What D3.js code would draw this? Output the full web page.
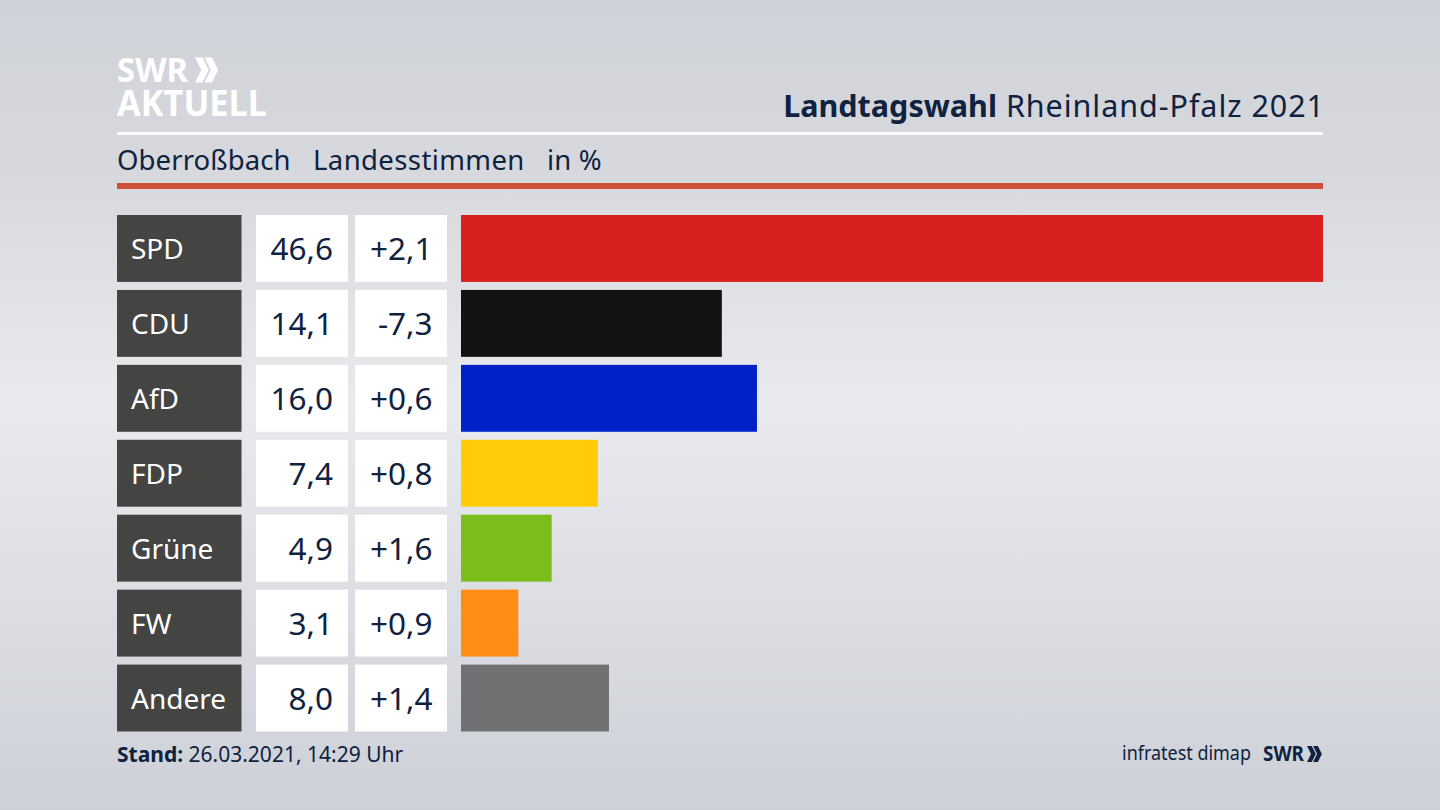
<!DOCTYPE html>
<html>
<head>
<meta charset="utf-8">
<script src="https://cdn.jsdelivr.net/npm/d3@7"></script>
<style>
  html, body { margin: 0; padding: 0; background: #dcdee3; }
  svg { display: block; }
  text { font-family: "Noto Sans", sans-serif; }
</style>
</head>
<body>
<svg id="chart" width="1440" height="810"></svg>
<script>
const parties = ['SPD', 'CDU', 'AfD', 'FDP', 'Grüne', 'FW', 'Andere'];
const shares = [46.6, 14.1, 16.0, 7.4, 4.9, 3.1, 8.0];
const changes = ['+2,1', '-7,3', '+0,6', '+0,8', '+1,6', '+0,9', '+1,4'];
const colors = ['#d8201f', '#121212', '#0021c7', '#ffcc07', '#7bbd1a', '#ff8c14', '#707173'];

const navy = '#0f2240';
const svg = d3.select('#chart');
const width = 1440;
const height = 810;

// background, lighter band through the middle
const defs = svg.append('defs');
const bg = defs.append('linearGradient').attr('id', 'bg').attr('x1', 0).attr('y1', 0).attr('x2', 0).attr('y2', 1);
[[0, '#cfd2d8'], [0.2, '#d6d8dd'], [0.5, '#e9eaee'], [0.72, '#dddfe4'], [1, '#cdd0d7']].forEach(s => {
    bg.append('stop').attr('offset', s[0]).attr('stop-color', s[1]);
});
svg.append('rect').attr('width', width).attr('height', height).attr('fill', 'url(#bg)');

const y = d3.scaleBand().domain(parties).range([215, 731.5]).paddingInner(0.107);
const x = d3.scaleLinear().domain([0, 46.6]).range([461, 1323]);

// header
const chevrons = (g, cx, cy, s, fill) => {
    [0, 0.38].forEach(o => {
        const x0 = cx + o * s;
        g.append('path')
            .attr('d', `M${x0},${cy - s / 2}L${x0 + s * 0.3},${cy - s / 2}L${x0 + s * 0.55},${cy}L${x0 + s * 0.3},${cy + s / 2}L${x0},${cy + s / 2}L${x0 + s * 0.25},${cy}Z`)
            .attr('fill', fill);
    });
};

svg.append('text').attr('x', 117).attr('y', 82).attr('font-size', 34).attr('font-weight', 700)
    .attr('fill', '#fff').attr('textLength', 71).attr('lengthAdjust', 'spacingAndGlyphs').text('SWR');
chevrons(svg, 195, 70, 25, '#fff');
svg.append('text').attr('x', 117).attr('y', 116).attr('font-size', 36).attr('font-weight', 700)
    .attr('fill', '#fff').attr('textLength', 150).attr('lengthAdjust', 'spacingAndGlyphs').text('AKTUELL');

const title = svg.append('text').attr('x', 1325).attr('y', 117).attr('text-anchor', 'end')
    .attr('font-size', 30.5).attr('fill', navy);
title.append('tspan').attr('font-weight', 700).text('Landtagswahl');
title.append('tspan').attr('letter-spacing', 0.95).text(' Rheinland-Pfalz 2021');

svg.append('rect').attr('x', 117).attr('y', 132).attr('width', 1206).attr('height', 3).attr('fill', '#fff');

[['Oberroßbach', 117, 0.1], ['Landesstimmen', 313, 0.4], ['in %', 547, 0.2]].forEach(d => {
    svg.append('text').attr('x', d[1]).attr('y', 170).attr('font-size', 27.5)
        .attr('letter-spacing', d[2]).attr('fill', navy).text(d[0]);
});

svg.append('rect').attr('x', 117).attr('y', 183).attr('width', 1206).attr('height', 6).attr('fill', '#cf4f39');

// rows
const rows = svg.append('g').selectAll('g').data(parties).enter().append('g')
    .attr('transform', d => `translate(0,${y(d)})`);
const bh = y.bandwidth();

rows.append('rect').attr('x', 117).attr('width', 124.5).attr('height', bh).attr('fill', '#444442');
rows.append('rect').attr('x', 256).attr('width', 92).attr('height', bh).attr('fill', '#fff');
rows.append('rect').attr('x', 355).attr('width', 92).attr('height', bh).attr('fill', '#fff');

rows.append('rect').attr('x', x(0)).attr('height', bh)
    .attr('width', (d, i) => x(shares[i]) - x(0))
    .attr('fill', (d, i) => colors[i]);

rows.append('text').attr('x', 131).attr('y', bh / 2 + 10.5).attr('font-size', 28).attr('fill', '#fff').text(d => d);
rows.append('text').attr('x', 333).attr('y', bh / 2 + 11.5).attr('text-anchor', 'end')
    .attr('font-size', 31.5).attr('fill', navy).text((d, i) => d3.format('.1f')(shares[i]).replace('.', ','));
rows.append('text').attr('x', 432.5).attr('y', bh / 2 + 11.5).attr('text-anchor', 'end')
    .attr('font-size', 31.5).attr('fill', navy).text((d, i) => changes[i]);

// footer
const stand = svg.append('text').attr('x', 117).attr('y', 762).attr('font-size', 21).attr('fill', navy);
stand.append('tspan').attr('font-weight', 700).text('Stand:');
stand.append('tspan').text(' 26.03.2021, 14:29 Uhr');

svg.append('text').attr('x', 1122).attr('y', 760).attr('font-size', 20).attr('fill', navy)
    .attr('textLength', 129).attr('lengthAdjust', 'spacingAndGlyphs').text('infratest dimap');
svg.append('text').attr('x', 1263).attr('y', 761).attr('font-size', 20.5).attr('font-weight', 700)
    .attr('fill', navy).attr('textLength', 41).attr('lengthAdjust', 'spacingAndGlyphs').text('SWR');
chevrons(svg, 1307, 754, 16, navy);
</script>
</body>
</html>
